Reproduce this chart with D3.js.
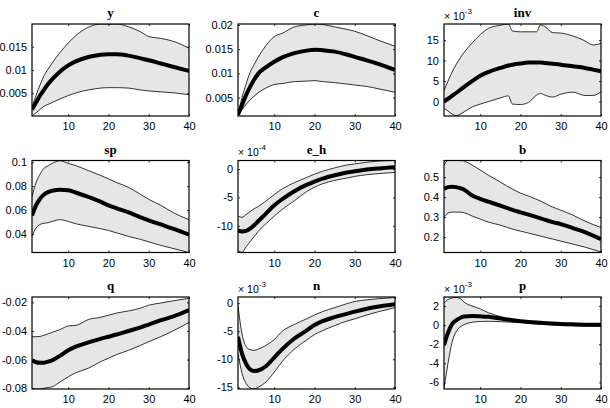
<!DOCTYPE html>
<html>
<head>
<meta charset="utf-8">
<script src="https://cdn.jsdelivr.net/npm/d3@7"></script>
<style>
  body { margin: 0; background: #fff; }
  svg { display: block; }
  .tick text { font-family: "Liberation Sans", Arial, sans-serif; font-size: 11px; fill: #000; }
</style>
</head>
<body>
<div id="chart"></div>
<script>
// horizon (periods after the shock)
const periods = [1, 2, 3, 4, 5, 6, 8, 10, 12, 15, 18, 20, 22, 25, 28, 30, 33, 36, 40];
const invPeriods = [1, 2, 3, 4, 6, 8, 10, 12, 15, 17, 18, 20, 22, 24, 25, 26, 28, 30, 33, 36, 38, 40];
const xTicks = [10, 20, 30, 40];

// median response and bands
const yMed = [0.0015, 0.003, 0.0045, 0.0058, 0.007, 0.008, 0.0097, 0.011, 0.0119, 0.0128, 0.0133, 0.0134, 0.0134, 0.0131, 0.0125, 0.0121, 0.0114, 0.0107, 0.0098];
const yHi  = [0.002, 0.0045, 0.0068, 0.0088, 0.0102, 0.0115, 0.0138, 0.0158, 0.0175, 0.0192, 0.0199, 0.0199, 0.0199, 0.0193, 0.0182, 0.0172, 0.0168, 0.0162, 0.0147];
const yLo  = [0.0001, 0.0008, 0.0015, 0.0022, 0.0026, 0.003, 0.0038, 0.0045, 0.0051, 0.0057, 0.0061, 0.0062, 0.0062, 0.0061, 0.0057, 0.0055, 0.0053, 0.0051, 0.0047];
const yTicks = [0.005, 0.01, 0.015];

const cMed = [0.0015, 0.0035, 0.0055, 0.0072, 0.0087, 0.0099, 0.0113, 0.0124, 0.0133, 0.0142, 0.0147, 0.0149, 0.0148, 0.0145, 0.0139, 0.0134, 0.0127, 0.0119, 0.0107];
const cHi  = [0.0015, 0.005, 0.0078, 0.0102, 0.0118, 0.0133, 0.0158, 0.0176, 0.0183, 0.0196, 0.02, 0.0202, 0.0201, 0.0196, 0.0191, 0.0187, 0.0178, 0.0168, 0.0156];
const cLo  = [0.0012, 0.0025, 0.0036, 0.0045, 0.0053, 0.006, 0.007, 0.0077, 0.0079, 0.0083, 0.0084, 0.0085, 0.0083, 0.0081, 0.0078, 0.0076, 0.0073, 0.0068, 0.0061];
const cTicks = [0.005, 0.01, 0.015, 0.02];

// inv in units of 10^-3
const invMed = [0, 0.7, 1.4, 2.1, 3.6, 5.0, 6.3, 7.2, 8.2, 8.8, 9.0, 9.3, 9.5, 9.5, 9.5, 9.4, 9.2, 9.0, 8.6, 8.2, 7.8, 7.4];
const invHi  = [2.7, 5.0, 7.2, 9.0, 12.0, 14.3, 16.3, 17.8, 18.6, 18.9, 17.2, 17.0, 17.0, 17.0, 18.7, 18.3, 16.8, 16.7, 16.0, 14.8, 13.8, 14.2];
const invLo  = [-1.6, -2.3, -3.0, -3.4, -2.5, -1.3, -0.6, 0, 0.9, 1.4, -0.6, -0.7, -0.2, 1.6, 2.0, 1.6, 1.1, 1.8, 2.3, 1.5, 1.5, 2.4];
const invTicks = [0, 5, 10, 15];

const spMed = [0.0555, 0.064, 0.0695, 0.073, 0.075, 0.0762, 0.077, 0.0765, 0.0745, 0.071, 0.067, 0.064, 0.0615, 0.058, 0.054, 0.0515, 0.048, 0.0445, 0.0395];
const spHi  = [0.071, 0.083, 0.09, 0.095, 0.097, 0.099, 0.1012, 0.099, 0.097, 0.093, 0.089, 0.086, 0.083, 0.079, 0.073, 0.069, 0.064, 0.058, 0.052];
const spLo  = [0.038, 0.045, 0.048, 0.049, 0.0495, 0.0505, 0.052, 0.0505, 0.0485, 0.0465, 0.0445, 0.043, 0.041, 0.038, 0.0355, 0.0335, 0.0305, 0.028, 0.0246];
const spTicks = [0.04, 0.06, 0.08, 0.1];

// e_h in units of 10^-4
const ehMed = [-10.8, -11.0, -10.9, -10.5, -9.9, -9.2, -7.8, -6.4, -5.3, -3.9, -2.8, -2.2, -1.7, -1.1, -0.6, -0.4, -0.1, 0.1, 0.3];
const ehHi  = [-8.3, -8.5, -8.0, -7.5, -7.0, -6.6, -5.6, -4.5, -3.5, -2.4, -1.5, -0.9, -0.4, 0.2, 0.7, 0.9, 1.2, 1.4, 1.5];
const ehLo  = [-14.3, -14.7, -13.7, -12.8, -11.9, -11.0, -9.6, -8.3, -7.1, -5.6, -4.0, -3.2, -2.6, -2.0, -1.6, -1.3, -1.0, -0.8, -0.6];
const ehTicks = [-10, -5, 0];

const bMed = [0.44, 0.45, 0.452, 0.45, 0.445, 0.437, 0.408, 0.391, 0.377, 0.357, 0.336, 0.324, 0.312, 0.294, 0.275, 0.265, 0.245, 0.225, 0.19];
const bHi  = [0.56, 0.583, 0.583, 0.583, 0.583, 0.58, 0.56, 0.535, 0.51, 0.475, 0.44, 0.42, 0.405, 0.38, 0.35, 0.335, 0.31, 0.28, 0.248];
const bLo  = [0.30, 0.32, 0.325, 0.325, 0.325, 0.322, 0.305, 0.29, 0.275, 0.26, 0.24, 0.23, 0.22, 0.205, 0.19, 0.18, 0.165, 0.15, 0.125];
const bTicks = [0.2, 0.3, 0.4, 0.5];

const qMed = [-0.0605, -0.0618, -0.0622, -0.0621, -0.0614, -0.0605, -0.0572, -0.0535, -0.0508, -0.048, -0.0455, -0.044, -0.0425, -0.040, -0.0375, -0.0355, -0.0325, -0.030, -0.0255];
const qHi  = [-0.044, -0.044, -0.0438, -0.043, -0.042, -0.041, -0.039, -0.0365, -0.036, -0.032, -0.0305, -0.029, -0.0275, -0.026, -0.024, -0.022, -0.0205, -0.019, -0.0172];
const qLo  = [-0.08, -0.0805, -0.0805, -0.08, -0.0795, -0.079, -0.0755, -0.072, -0.069, -0.066, -0.0615, -0.059, -0.0565, -0.0535, -0.050, -0.0475, -0.044, -0.040, -0.034];
const qTicks = [-0.08, -0.06, -0.04, -0.02];

// n in units of 10^-3
const nMed = [-6, -9, -10.8, -11.8, -12.1, -12.0, -11.2, -9.7, -8.2, -6.3, -4.9, -3.9, -3.2, -2.5, -1.9, -1.5, -1.0, -0.6, -0.2];
const nHi  = [-0.5, -5.5, -7.7, -8.3, -8.4, -8.2, -7.5, -6.5, -5.0, -3.8, -2.8, -2.1, -1.5, -0.8, -0.1, 0.3, 0.6, 0.8, 1.0];
const nLo  = [-9, -12.5, -14.3, -15.1, -15.3, -15.0, -14.0, -12.3, -10.4, -8.2, -6.6, -5.6, -4.9, -4.0, -3.2, -2.8, -2.1, -1.5, -0.8];
const nTicks = [-15, -10, -5, 0];

// p in units of 10^-3
const pMed = [-2.1, -0.8, 0.1, 0.5, 0.75, 0.9, 0.95, 0.92, 0.87, 0.7, 0.52, 0.42, 0.34, 0.24, 0.16, 0.12, 0.08, 0.05, 0.03];
const pHi  = [2.3, 2.7, 2.85, 2.9, 2.8, 2.4, 2.0, 1.7, 1.3, 0.9, 0.55, 0.42, 0.32, 0.22, 0.14, 0.1, 0.08, 0.06, 0.05];
const pLo  = [-6.6, -4.0, -1.8, -0.7, -0.2, 0.05, 0.3, 0.38, 0.4, 0.37, 0.3, 0.25, 0.18, 0.1, 0.02, -0.03, -0.07, -0.1, -0.12];
const pTicks = [-6, -4, -2, 0, 2];

const panels = [
  { title: 'y',   x: periods,    med: yMed,   lo: yLo,   hi: yHi,   yDomain: [0.0001, 0.0199], ticks: yTicks },
  { title: 'c',   x: periods,    med: cMed,   lo: cLo,   hi: cHi,   yDomain: [0.0012, 0.0202], ticks: cTicks },
  { title: 'inv', x: invPeriods, med: invMed, lo: invLo, hi: invHi, yDomain: [-3.5, 18.9],     ticks: invTicks, exp: '-3' },
  { title: 'sp',  x: periods,    med: spMed,  lo: spLo,  hi: spHi,  yDomain: [0.0246, 0.1014], ticks: spTicks },
  { title: 'e_h', x: periods,    med: ehMed,  lo: ehLo,  hi: ehHi,  yDomain: [-14.7, 1.5],     ticks: ehTicks, exp: '-4' },
  { title: 'b',   x: periods,    med: bMed,   lo: bLo,   hi: bHi,   yDomain: [0.123, 0.583],   ticks: bTicks },
  { title: 'q',   x: periods,    med: qMed,   lo: qLo,   hi: qHi,   yDomain: [-0.0805, -0.0163], ticks: qTicks },
  { title: 'n',   x: periods,    med: nMed,   lo: nLo,   hi: nHi,   yDomain: [-15.3, 1.1],     ticks: nTicks, exp: '-3' },
  { title: 'p',   x: periods,    med: pMed,   lo: pLo,   hi: pHi,   yDomain: [-6.7, 2.95],     ticks: pTicks, exp: '-3' }
];

const WIDTH = 610;
const HEIGHT = 408;
const colLeft = [32, 238, 444];
const rowTop = [24, 160.5, 297];
const PW = 157;
const PH = 92;

const svg = d3.select('#chart')
  .append('svg')
    .attr('width', WIDTH)
    .attr('height', HEIGHT);

panels.forEach((p, i) => {
  const left = colLeft[i % 3];
  const top = rowTop[Math.floor(i / 3)];

  const x = d3.scaleLinear().domain([1, 40]).range([0, PW]);
  const y = d3.scaleLinear().domain(p.yDomain).range([PH, 0]);

  const g = svg.append('g')
    .attr('transform', `translate(${left},${top})`);

  g.append('clipPath')
    .attr('id', 'clip' + i)
    .append('rect')
      .attr('width', PW)
      .attr('height', PH);

  const rows = p.x.map((t, k) => ({ t: t, med: p.med[k], lo: p.lo[k], hi: p.hi[k] }));

  const plot = g.append('g').attr('clip-path', `url(#clip${i})`);

  plot.append('path')
    .datum(rows)
    .attr('fill', '#e6e6e6')
    .attr('stroke', 'none')
    .attr('d', d3.area()
      .curve(d3.curveMonotoneX)
      .x(d => x(d.t))
      .y0(d => y(d.lo))
      .y1(d => y(d.hi)));

  ['lo', 'hi'].forEach(key => {
    plot.append('path')
      .datum(rows)
      .attr('fill', 'none')
      .attr('stroke', '#000')
      .attr('stroke-width', 0.8)
      .attr('d', d3.line()
        .curve(d3.curveMonotoneX)
        .x(d => x(d.t))
        .y(d => y(d[key])));
  });

  plot.append('path')
    .datum(rows)
    .attr('fill', 'none')
    .attr('stroke', '#000')
    .attr('stroke-width', 4)
    .attr('stroke-linejoin', 'round')
    .attr('d', d3.line()
      .curve(d3.curveMonotoneX)
      .x(d => x(d.t))
      .y(d => y(d.med)));

  // axes, ticks pointing inward (matlab style)
  const fmt = v => String(v);

  const bottom = g.append('g')
    .attr('transform', `translate(0,${PH})`)
    .call(d3.axisBottom(x).tickValues(xTicks).tickSize(-2).tickPadding(5).tickFormat(fmt));
  const topAx = g.append('g')
    .call(d3.axisTop(x).tickValues(xTicks).tickSize(-2).tickFormat(''));
  const leftAx = g.append('g')
    .call(d3.axisLeft(y).tickValues(p.ticks).tickSize(-2).tickPadding(5).tickFormat(fmt));
  const rightAx = g.append('g')
    .attr('transform', `translate(${PW},0)`)
    .call(d3.axisRight(y).tickValues(p.ticks).tickSize(-2).tickFormat(''));

  [bottom, topAx, leftAx, rightAx].forEach(a => {
    a.select('.domain').remove();
    a.selectAll('.tick line').attr('stroke', '#000').attr('stroke-width', 0.8);
  });
  bottom.selectAll('.tick text').attr('dy', '0.85em');

  g.append('rect')
    .attr('width', PW)
    .attr('height', PH)
    .attr('fill', 'none')
    .attr('stroke', '#000')
    .attr('stroke-width', 1.2);

  g.append('text')
    .attr('x', PW / 2)
    .attr('y', -7)
    .attr('text-anchor', 'middle')
    .attr('font-family', '"Liberation Serif", "Times New Roman", serif')
    .attr('font-weight', 'bold')
    .attr('font-size', 13)
    .text(p.title);

  if (p.exp) {
    const ex = g.append('text')
      .attr('x', 0)
      .attr('y', -4.5)
      .attr('font-family', '"Liberation Sans", Arial, sans-serif')
      .attr('font-size', 10.5);
    ex.append('tspan').text('\u00d7 10');
    ex.append('tspan')
      .attr('dy', -6)
      .attr('font-size', 8)
      .text(p.exp);
  }
});
</script>
</body>
</html>
